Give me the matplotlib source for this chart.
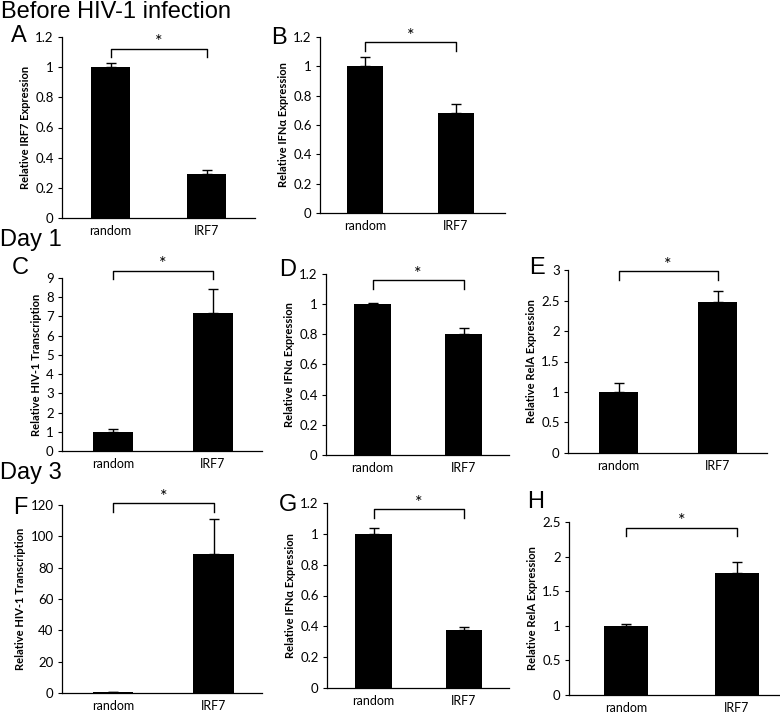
import numpy as np
import matplotlib
matplotlib.use('Agg')
import matplotlib.pyplot as plt
from matplotlib.ticker import FuncFormatter

W, H = 780, 716

groups = ['random', 'IRF7']
panel_ids = ['A', 'B', 'C', 'D', 'E', 'F', 'G', 'H']
ylabels = ['Relative IRF7 Expression', 'Relative IFNα Expression',
           'Relative HIV-1 Transcription', 'Relative IFNα Expression',
           'Relative RelA Expression', 'Relative HIV-1 Transcription',
           'Relative IFNα Expression', 'Relative RelA Expression']
means = [[1.0, 0.29], [1.0, 0.68], [1.0, 7.2], [1.0, 0.80],
         [1.0, 2.48], [0.5, 89.0], [1.0, 0.375], [1.0, 1.77]]
errs = [[0.03, 0.03], [0.065, 0.065], [0.12, 1.25], [0.01, 0.04],
        [0.14, 0.18], [0.4, 22.0], [0.04, 0.02], [0.03, 0.15]]
ymax = [1.2, 1.2, 9, 1.2, 3, 120, 1.2, 2.5]
ystep = [0.2, 0.2, 1, 0.2, 0.5, 20, 0.2, 0.5]
# significance bracket: top, bottom of drops, star
sig_top = [1.12, 1.166, 9.38, 1.16, 2.99, 121, 1.159, 2.41]
sig_bot = [1.07, 1.105, 8.95, 1.10, 2.84, 115.7, 1.10, 2.30]
sig_star = [1.165, 1.205, 9.72, 1.20, 3.09, 125, 1.20, 2.51]

# layout in pixels: left, right, top, bottom of axes, and bar centres
boxes = [(62, 255, 37, 218), (320, 505, 37, 213), (62, 262, 278, 451),
         (326, 509, 274, 455), (568, 767, 270, 453), (62, 262, 505, 693),
         (327, 509, 503, 688), (569, 780, 522, 695)]
centres = [(110.5, 206.5), (365, 456), (113, 213), (372.5, 463.5),
           (618.5, 717.5), (113, 213.5), (373.5, 464), (626, 737)]
letter_pos = [(11, 36), (271, 38), (12, 268), (279, 270), (529, 268),
              (13, 508), (279, 505), (527, 502)]

tick_font = 'Lato'
fig = plt.figure(figsize=(W / 100, H / 100), dpi=100)

fmt = FuncFormatter(lambda v, p: f'{v:g}')

for i in range(8):
    L, R, T, B = boxes[i]
    c0, c1 = centres[i]
    ax = fig.add_axes([L / W, 1 - B / H, (R - L) / W, (B - T) / H])
    x = np.arange(len(groups))
    ax.bar(x, means[i], width=0.4, color='black',
           yerr=[[0, 0], errs[i]], capsize=3.5,
           error_kw=dict(ecolor='black', elinewidth=1, capthick=1))
    ax.set_xlim((L - c0) / (c1 - c0), (R - c0) / (c1 - c0))
    ax.set_ylim(0, ymax[i])
    ax.set_yticks(np.arange(0, ymax[i] + ystep[i] / 2, ystep[i]))
    ax.yaxis.set_major_formatter(fmt)
    ax.set_xticks(x)
    ax.set_xticklabels(groups, fontfamily=tick_font, fontsize=9)
    ax.tick_params(axis='x', length=0, pad=5)
    ax.tick_params(axis='y', length=3, width=0.8, pad=3, labelsize=9.5)
    for lab in ax.get_yticklabels():
        lab.set_fontfamily(tick_font)
    ax.spines['top'].set_visible(False)
    ax.spines['right'].set_visible(False)
    ax.spines['left'].set_linewidth(0.9)
    ax.spines['bottom'].set_linewidth(0.9)
    ax.set_ylabel(ylabels[i], fontfamily=tick_font, fontweight='bold',
                  fontsize=8, labelpad=3)
    ax.plot([0, 0, 1, 1], [sig_bot[i], sig_top[i], sig_top[i], sig_bot[i]],
            color='black', lw=1, clip_on=False)
    ax.text(0.5, sig_star[i], '*', ha='center', va='center',
            fontfamily=tick_font, fontsize=13, clip_on=False)
    lx, ly = letter_pos[i]
    fig.text(lx / W, 1 - ly / H, panel_ids[i], ha='left', va='center',
             fontfamily='Liberation Sans', fontsize=17)

fig.text(1 / W, 1 - 12 / H, 'Before HIV-1 infection', ha='left', va='center',
         fontfamily='Liberation Sans', fontsize=17)
fig.text(0 / W, 1 - 240 / H, 'Day 1', ha='left', va='center',
         fontfamily='Liberation Sans', fontsize=17)
fig.text(0 / W, 1 - 473 / H, 'Day 3', ha='left', va='center',
         fontfamily='Liberation Sans', fontsize=17)

fig.savefig('out.png', dpi=100)
